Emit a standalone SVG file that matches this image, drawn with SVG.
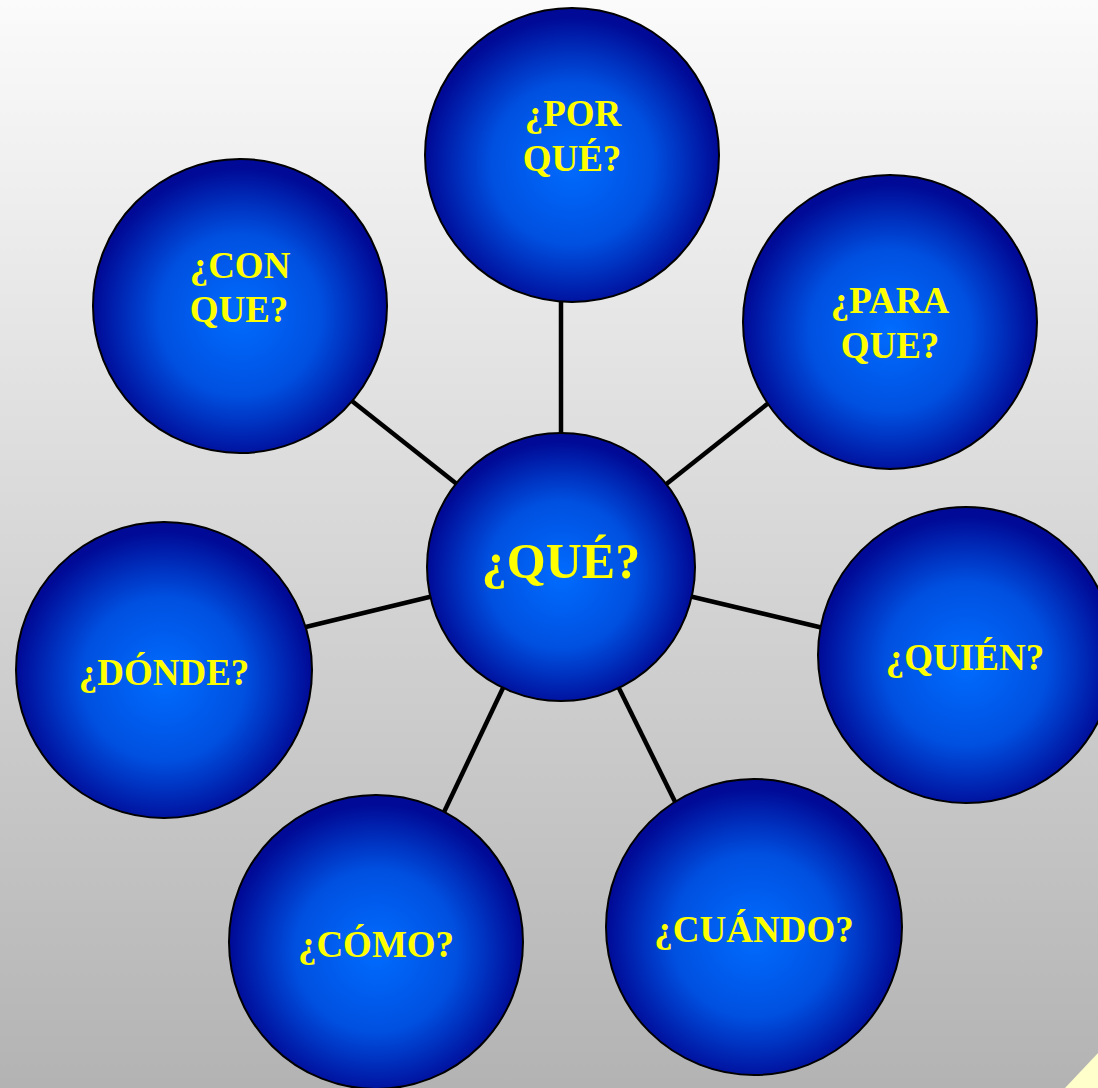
<svg xmlns="http://www.w3.org/2000/svg" width="1098" height="1088" viewBox="0 0 1098 1088">
<defs>
<linearGradient id="bg" x1="0" y1="0" x2="0" y2="1">
<stop offset="0" stop-color="#fbfbfb"/>
<stop offset="1" stop-color="#b3b3b3"/>
</linearGradient>
<radialGradient id="ball" cx="0.5" cy="0.53" r="0.5">
<stop offset="0" stop-color="#006cff"/>
<stop offset="0.55" stop-color="#0050e0"/>
<stop offset="1" stop-color="#000a96"/>
</radialGradient>
<style>
.node circle{fill:url(#ball);stroke:#000;stroke-width:2}
.node text{font-family:"Liberation Serif","Times New Roman",serif;font-weight:bold;fill:#ffff00;font-size:37px;text-anchor:middle}
.conn line{stroke:#000;stroke-width:4.5}
</style>
</defs>
<rect x="0" y="0" width="1098" height="1088" fill="url(#bg)"/>
<polygon points="1065,1088 1098,1053 1098,1088" fill="#ffffcc"/>
<g id="connectors" class="conn">
<line x1="561" y1="450" x2="561" y2="290"/>
<line x1="477" y1="500" x2="333" y2="386"/>
<line x1="650" y1="497" x2="790" y2="386"/>
<line x1="450" y1="592" x2="285" y2="632"/>
<line x1="672" y1="592" x2="840" y2="632"/>
<line x1="512" y1="669" x2="436" y2="829"/>
<line x1="610" y1="670" x2="685" y2="822"/>
</g>
<g id="n-porque" class="node"><circle cx="572" cy="155" r="147"/><text x="573" y="126">¿POR</text><text x="572" y="171">QUÉ?</text></g>
<g id="n-conque" class="node"><circle cx="240" cy="306" r="147"/><text x="240" y="278">¿CON</text><text x="239" y="322">QUE?</text></g>
<g id="n-paraque" class="node"><circle cx="890" cy="322" r="147"/><text x="890" y="313">¿PARA</text><text x="890" y="358">QUE?</text></g>
<g id="n-donde" class="node"><circle cx="164" cy="670" r="148"/><text x="164" y="685">¿DÓNDE?</text></g>
<g id="n-quien" class="node"><circle cx="966" cy="655" r="148"/><text x="965" y="670">¿QUIÉN?</text></g>
<g id="n-como" class="node"><circle cx="376" cy="942" r="147"/><text x="376" y="957">¿CÓMO?</text></g>
<g id="n-cuando" class="node"><circle cx="754" cy="927" r="148"/><text x="754" y="942">¿CUÁNDO?</text></g>
<g id="n-que" class="node"><circle cx="561" cy="567" r="134"/><text x="561" y="578" style="font-size:50px">¿QUÉ?</text></g>
</svg>
